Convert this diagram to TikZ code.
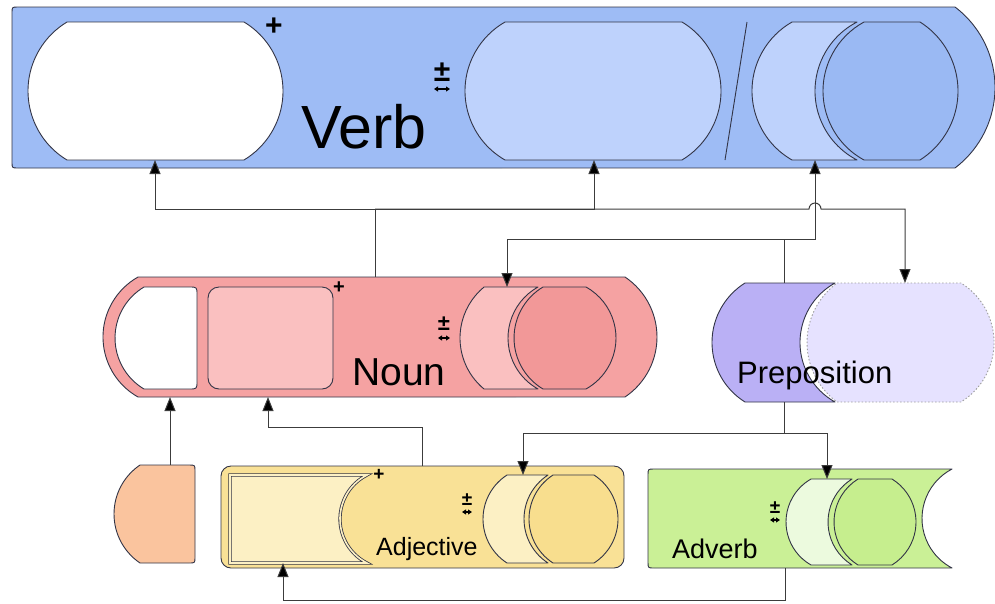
\documentclass[tikz,border=0pt]{standalone}
\usepackage{fontspec}
\setmainfont{Liberation Sans}
\usetikzlibrary{arrows.meta}
\definecolor{verbOut}{RGB}{158,188,245}
\definecolor{verbLight}{RGB}{190,210,252}
\definecolor{verbCirc}{RGB}{154,185,243}
\definecolor{nounOut}{RGB}{245,162,162}
\definecolor{nounLight}{RGB}{250,192,192}
\definecolor{nounCirc}{RGB}{242,152,152}
\definecolor{prepDark}{RGB}{186,176,245}
\definecolor{prepLight}{RGB}{230,226,255}
\definecolor{orangeFill}{RGB}{250,196,158}
\definecolor{adjOut}{RGB}{249,225,150}
\definecolor{adjInner}{RGB}{252,240,196}
\definecolor{adjCirc}{RGB}{248,222,142}
\definecolor{advOut}{RGB}{202,240,150}
\definecolor{advLight}{RGB}{236,250,222}
\definecolor{advCirc}{RGB}{198,238,142}
\definecolor{edge}{RGB}{50,52,70}
\definecolor{wire}{RGB}{60,60,60}
\begin{document}
\begin{tikzpicture}[x=1pt,y=-1pt,
  declare function={rr(\h,\d)=(\h*\h+\d*\d)/(2*\d); bb(\h,\d)=atan(\h/(rr(\h,\d)-\d));},
  arcR/.style 2 args={insert path={arc[start angle={-bb(#1,#2)}, end angle={bb(#1,#2)}, radius={rr(#1,#2)}]}},
  arcLup/.style 2 args={insert path={arc[start angle={180-bb(#1,#2)}, end angle={180+bb(#1,#2)}, radius={rr(#1,#2)}]}},
  arcLdn/.style 2 args={insert path={arc[start angle={180+bb(#1,#2)}, end angle={180-bb(#1,#2)}, radius={rr(#1,#2)}]}},
  shp/.style={draw=edge, line width=0.9pt, line join=round},
  conn/.style={draw=wire, line width=1pt},
  arr/.style={conn, -{Triangle[length=14pt,width=11pt,fill=black]}},
  lbl/.style={inner sep=0pt, text=black},
  pm/.style={inner sep=0pt, font=\bfseries},
  tiny/.style={draw=black, line width=1.6pt, {Triangle[length=4pt,width=5pt]}-{Triangle[length=4pt,width=5pt]}}
]
\useasboundingbox (0,0) rectangle (995,603);

% ---------------- Verb ----------------
\draw[shp, fill=verbOut] (955,7) [arcR={80.5}{40}] -- (18,168) .. controls (12,168) .. (12,162) -- (12,13) .. controls (12,7) .. (18,7) -- cycle;
\draw[shp, fill=white] (67,22) -- (244,22) [arcR={69}{39}] -- (67,160) [arcLup={69}{39}] -- cycle;
\draw[shp, fill=verbLight] (505,22) -- (682,22) [arcR={69}{39}] -- (505,160) [arcLup={69}{40}] -- cycle;
\draw[shp] (747,22) -- (725,160);
\draw[shp, fill=verbLight] (792,22) -- (857,22) [arcLdn={69}{42}] -- (792,160) [arcLup={69}{40}] -- cycle;
\draw[shp, fill=verbCirc] (864,22) -- (920,22) [arcR={69}{38}] -- (864,160) [arcLup={69}{41}] -- cycle;
\node[pm, font=\bfseries\fontsize{30}{30}\selectfont] (vplus) at (274,27) {+};
\node[pm, font=\bfseries\fontsize{30}{30}\selectfont] (vpm) at (442,72) {±};
\draw[tiny] (434,89) -- (450,89);
\node[lbl, anchor=base west, font=\fontsize{61}{61}\selectfont] (verb) at (301,148) {Verb};

% ---------------- Noun ----------------
\draw[shp, fill=nounOut] (138,277) -- (625,277) [arcR={60}{32}] -- (138,397) [arcLup={60}{35}] -- cycle;
\draw[shp, fill=white] (144,287) -- (189,287) .. controls (197,287) .. (197,295) -- (197,381) .. controls (197,389) .. (189,389) -- (144,389) [arcLup={51}{29}] -- cycle;
\draw[shp, fill=nounLight, rounded corners=11pt] (208,287) rectangle (333,389);
\draw[shp, fill=nounLight] (484,287) -- (538,287) [arcLdn={51}{30}] -- (484,389) [arcLup={51}{24}] -- cycle;
\draw[shp, fill=nounCirc] (543,287) -- (586,287) [arcR={51}{30}] -- (543,389) [arcLup={51}{29}] -- cycle;
\node[pm, font=\bfseries\fontsize{20}{20}\selectfont] (nplus) at (339,288) {+};
\node[pm, font=\bfseries\fontsize{22}{22}\selectfont] (npm) at (444,324) {±};
\draw[tiny] (438,338) -- (450,338);
\node[lbl, anchor=base west, font=\fontsize{39}{39}\selectfont] (noun) at (352,385) {Noun};

% ---------------- Preposition ----------------
\draw[draw=gray!75, line width=0.9pt, dash pattern=on 1.5pt off 2pt, fill=prepLight] (837,283) -- (961,283) [arcR={59.5}{33}] -- (837,402) [arcLup={59.5}{30}] -- cycle;
\draw[shp, fill=prepDark] (745,283) -- (835,283) [arcLdn={59.5}{35}] -- (745,402) [arcLup={59.5}{33}] -- cycle;
\node[lbl, anchor=base west, font=\fontsize{31}{31}\selectfont] (prep) at (737,383) {Preposition};

% ---------------- Bottom row ----------------
\draw[shp, fill=orangeFill] (140,465) -- (189,465) .. controls (195,465) .. (195,471) -- (195,557) .. controls (195,563) .. (189,563) -- (140,563) [arcLup={49}{26}] -- cycle;

\draw[shp, fill=adjOut, rounded corners=10pt] (221,466) rectangle (624,568);
\draw[draw=edge, line width=0.8pt, double=adjInner, double distance=1.6pt, fill=adjInner] (230,475) -- (367,475) [arcLdn={44}{27}] -- (230,563) -- cycle;
\draw[shp, fill=adjInner] (507,475) -- (548,475) [arcLdn={44}{24}] -- (507,563) [arcLup={44}{24}] -- cycle;
\draw[shp, fill=adjCirc] (553,475) -- (594,475) [arcR={44}{24}] -- (553,563) [arcLup={44}{24}] -- cycle;
\node[pm, font=\bfseries\fontsize{19}{19}\selectfont] (aplus) at (379,475) {+};
\node[pm, font=\bfseries\fontsize{19}{19}\selectfont] (apm) at (467,500) {±};
\draw[tiny] (462,512) -- (472,512);
\node[lbl, anchor=base west, font=\fontsize{25}{25}\selectfont] (adj) at (376,555) {Adjective};

\draw[shp, fill=advOut] (654,469) -- (952,469) [arcLdn={49.5}{30}] -- (654,568) .. controls (648,568) .. (648,562) -- (648,475) .. controls (648,469) .. (654,469) -- cycle;
\draw[shp, fill=advLight] (811,479) -- (852,479) [arcLdn={43}{24}] -- (811,565) [arcLup={43}{25}] -- cycle;
\draw[shp, fill=advCirc] (858,479) -- (892,479) [arcR={43}{24}] -- (858,565) [arcLup={43}{24}] -- cycle;
\node[pm, font=\bfseries\fontsize{19}{19}\selectfont] (vvpm) at (775,508) {±};
\draw[tiny] (770,520) -- (780,520);
\node[lbl, anchor=base west, font=\fontsize{27}{27}\selectfont] (adv) at (672,558) {Adverb};

% ---------------- Connector ends ----------------
\coordinate (verbWb) at (155,160);
\coordinate (verbLb) at (594,160);
\coordinate (verbCb) at (815,160);
\coordinate (nounT) at (375,277);
\coordinate (n1) at (375,209);
\coordinate (hopL) at (809,209);
\coordinate (prepDt) at (905,283);
\coordinate (prepT) at (784,283);
\coordinate (p1) at (784,239);
\coordinate (nounCt) at (507,287);
\coordinate (orT) at (170,465);
\coordinate (nounWb) at (170,397);
\coordinate (adjT) at (422,466);
\coordinate (a1) at (422,427);
\coordinate (nounPb) at (268,397);
\coordinate (prepB) at (784,402);
\coordinate (p2) at (784,433);
\coordinate (adjCt) at (523,475);
\coordinate (advCt) at (827,479);
\coordinate (advB) at (785,568);
\coordinate (v1) at (785,600);
\coordinate (adjIb) at (283,563);

% ---------------- Connectors ----------------
\draw[conn] (nounT) -- (n1);
\draw[arr] (n1) -| (verbWb);
\draw[arr] (n1) -| (verbLb);
\draw[arr] (n1) -- (hopL) arc[start angle=180, end angle=360, radius=6] -| (prepDt);
\draw[conn] (prepT) -- (p1);
\draw[arr] (p1) -| (verbCb);
\draw[arr] (p1) -| (nounCt);
\draw[arr] (orT) -- (nounWb);
\draw[arr] (adjT) -- (a1) -| (nounPb);
\draw[conn] (prepB) -- (p2);
\draw[arr] (p2) -| (adjCt);
\draw[arr] (p2) -| (advCt);
\draw[arr] (advB) -- (v1) -| (adjIb);
\end{tikzpicture}
\end{document}
